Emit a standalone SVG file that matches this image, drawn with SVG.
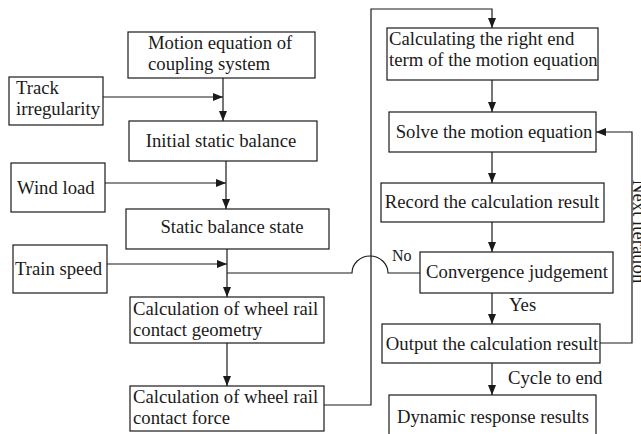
<svg xmlns="http://www.w3.org/2000/svg" width="641" height="434" viewBox="0 0 641 434">
<defs>
<marker id="ah" viewBox="0 0 10 8" refX="10" refY="4" markerWidth="10" markerHeight="8" markerUnits="userSpaceOnUse" orient="auto">
<path d="M0,0 L10,4 L0,8 Z" fill="#1a1a1a"/>
</marker>
<style>
rect{fill:#fff;stroke:#1a1a1a;stroke-width:1.2}
text{font-family:"Liberation Serif","Times New Roman",serif;font-size:18.7px;fill:#1a1a1a}
.c{text-anchor:middle}
.ln{fill:none;stroke:#1a1a1a;stroke-width:1.2}
.ar{fill:none;stroke:#1a1a1a;stroke-width:1.2;marker-end:url(#ah)}
</style>
</defs>
<rect x="0" y="0" width="641" height="434" style="stroke:none;fill:#fff"/>
<g id="connectors">
<path class="ar" d="M223,78 V121"/>
<path class="ar" d="M103,97 H223"/>
<path class="ar" d="M226,161 V209"/>
<path class="ar" d="M105,183 H226"/>
<path class="ar" d="M227,249 V297"/>
<path class="ar" d="M107,264 H227"/>
<path class="ar" d="M227,343 V386"/>
<path class="ar" d="M324,405 H371 V9 H492 V28"/>
<path class="ar" d="M492,80 V112"/>
<path class="ar" d="M492,152 V183"/>
<path class="ar" d="M492,222 V252"/>
<path class="ar" d="M492,293 V324"/>
<path class="ar" d="M492,363 V395"/>
<path class="ln" d="M420,273 H388 A18,17 0 0 0 352,273 H227"/>
<path class="ar" d="M600,343 H632 V132 H596"/>
<text x="392" y="261" style="font-size:16px">No</text>
<text x="509" y="311">Yes</text>
<text x="508" y="384">Cycle to end</text>
<text transform="translate(633,180) rotate(90)">Next iteration</text>
</g>
<g id="motion">
<rect x="128" y="32" width="187" height="46"/>
<text x="148" y="49">Motion equation of</text>
<text x="148" y="70">coupling system</text>
</g>
<g id="track">
<rect x="9" y="77" width="94" height="48"/>
<text x="16" y="94">Track</text>
<text x="16" y="115">irregularity</text>
</g>
<g id="initial">
<rect x="129" y="121" width="188" height="40"/>
<text class="c" x="221" y="147">Initial static balance</text>
</g>
<g id="wind">
<rect x="11" y="163" width="94" height="49"/>
<text x="17" y="194">Wind load</text>
</g>
<g id="static">
<rect x="126" y="209" width="203" height="40"/>
<text class="c" x="232" y="233">Static balance state</text>
</g>
<g id="speed">
<rect x="13" y="245" width="94" height="48"/>
<text x="15" y="275">Train speed</text>
</g>
<g id="geometry">
<rect x="130" y="297" width="194" height="46"/>
<text x="133" y="315">Calculation of wheel rail</text>
<text x="133" y="336">contact geometry</text>
</g>
<g id="force">
<rect x="130" y="386" width="194" height="45"/>
<text x="133" y="403">Calculation of wheel rail</text>
<text x="133" y="424">contact force</text>
</g>
<g id="rightend">
<rect x="387" y="28" width="211" height="52"/>
<text x="389" y="45">Calculating the right end</text>
<text x="389" y="66">term of the motion equation</text>
</g>
<g id="solve">
<rect x="389" y="112" width="207" height="40"/>
<text class="c" x="494" y="138">Solve the motion equation</text>
</g>
<g id="record">
<rect x="381" y="183" width="223" height="39"/>
<text class="c" x="492" y="208">Record the calculation result</text>
</g>
<g id="convergence">
<rect x="420" y="252" width="193" height="41"/>
<text class="c" x="517" y="278">Convergence judgement</text>
</g>
<g id="output">
<rect x="382" y="324" width="218" height="39"/>
<text class="c" x="492" y="350">Output the calculation result</text>
</g>
<g id="dynamic">
<rect x="389" y="395" width="207" height="50"/>
<text class="c" x="493" y="423">Dynamic response results</text>
</g>
</svg>
